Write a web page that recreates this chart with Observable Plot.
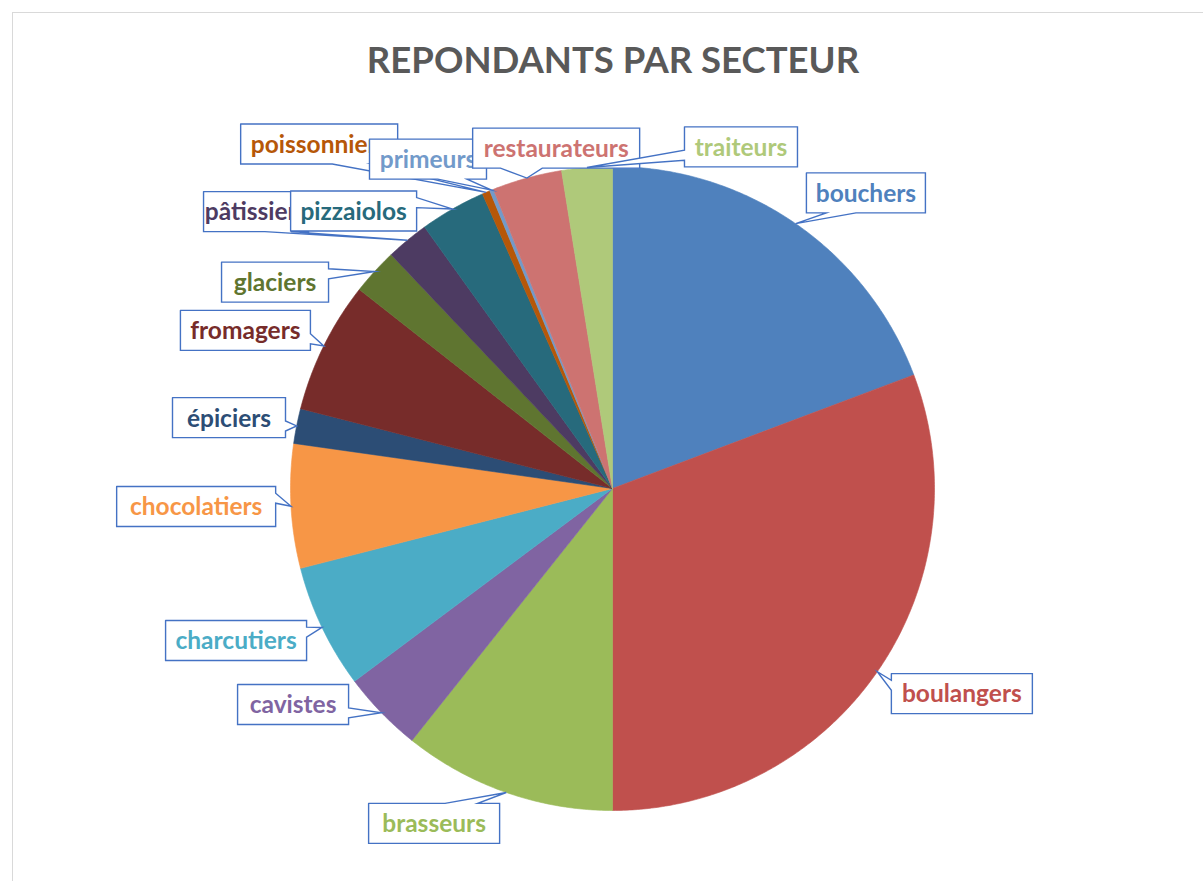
<!DOCTYPE html>
<html>
<head>
<meta charset="utf-8">
<script src="https://cdn.jsdelivr.net/npm/d3@7"></script>
<script src="https://cdn.jsdelivr.net/npm/@observablehq/plot@0.6"></script>
<style>
  html, body { margin: 0; padding: 0; background: #fff; overflow: hidden; width: 1203px; height: 881px; }
  #frame { position: absolute; left: 12px; top: 12px; width: 1400px; height: 1100px; border: 1px solid #D9D9D9; box-sizing: border-box; }
  #title { position: absolute; left: 0; top: 41px; width: 1226px; text-align: center; font-family: Lato, "Open Sans", sans-serif; font-weight: 700; font-size: 36.5px; line-height: 1; color: #595959; letter-spacing: 0px; }
  #chart { position: absolute; left: 0; top: 100px; }
</style>
</head>
<body>
<div id="frame"></div>
<div id="title">REPONDANTS PAR SECTEUR</div>
<div id="chart"></div>
<script>
// ---- data ----
const sectors = ["bouchers", "boulangers", "brasseurs", "cavistes", "charcutiers", "chocolatiers", "épiciers", "fromagers", "glaciers", "pâtissiers", "pizzaiolos", "poissonniers", "primeurs", "restaurateurs", "traiteurs"];
const counts  = [99, 158, 55, 21, 32, 32, 9, 34, 12, 11, 17, 2, 1, 18, 13];
const colors  = ["#4F81BD", "#C0504D", "#9BBB59", "#8064A2", "#4BACC6", "#F79646", "#2C4D75", "#772C2A", "#5F7530", "#4D3B62", "#276A7C", "#B65708", "#729ACA", "#CD7371", "#AFC97A"];

// ---- label layout (box centre in pie radii, box width in px, optional wedge side) ----
const labelX = [0.787, 1.085, -0.554, -0.992, -1.169, -1.293, -1.191, -1.140, -1.048, -1.107, -0.804, -0.911, -0.573, -0.175, 0.399];
const labelY = [0.918, -0.637, -1.040, -0.671, -0.472, -0.056, 0.220, 0.491, 0.641, 0.860, 0.862, 1.070, 1.023, 1.057, 1.061];
const labelW = [119, 141, 131, 111, 141, 159, 113, 130, 107, 105, 126, 157, 117, 167, 113];
const labelSide = {"pâtissiers": "bottom"};
const BOX_H = 40;

const W = 1203, H = 781, R = 322, CX = 612, CY = 388;

const rows = sectors.map((s, i) => ({sector: s, count: counts[i], color: colors[i]}));
const arcs = d3.pie().sort(null).value(d => d.count)(rows);

function arcPoints(a0, a1) {
  const n = Math.max(2, Math.ceil((a1 - a0) / (Math.PI / 360)));
  const pts = [];
  for (let k = 0; k <= n; k++) {
    const t = a0 + (a1 - a0) * k / n;
    pts.push({x: Math.sin(t), y: Math.cos(t)});
  }
  return pts;
}

const sliceMarks = arcs.map(a => Plot.line(
  [{x: 0, y: 0}, ...arcPoints(a.startAngle, a.endAngle), {x: 0, y: 0}],
  {x: "x", y: "y", fill: a.data.color, stroke: a.data.color, strokeWidth: 0.6, curve: "linear"}
));

const shadowMark = Plot.line(arcPoints(0, 2 * Math.PI),
  {x: "x", y: "y", fill: "#000", fillOpacity: 0.45, stroke: "none", curve: "linear", ariaLabel: "pie-shadow"});

// callout outlines
function callout(a, i) {
  const mid = (a.startAngle + a.endAngle) / 2;
  const tx = R * Math.sin(mid), ty = -R * Math.cos(mid);
  const cx = labelX[i] * R, cy = -labelY[i] * R, w = labelW[i], h = BOX_H;
  const L = cx - w / 2, Rr = cx + w / 2, T = cy - h / 2, B = cy + h / 2;
  let side = labelSide[a.data.sector];
  if (!side) {
    const dxn = (tx - cx) / w, dyn = (ty - cy) / h;
    side = Math.abs(dxn) > Math.abs(dyn) ? (dxn > 0 ? "right" : "left") : (dyn > 0 ? "bottom" : "top");
  }
  const hx = tx > cx ? [L + w * 7 / 12, L + w * 10 / 12] : [L + w * 2 / 12, L + w * 5 / 12];
  const vy = ty > cy ? [T + h * 7 / 12, T + h * 10 / 12] : [T + h * 2 / 12, T + h * 5 / 12];
  const p = [[L, T]];
  if (side === "top") p.push([hx[0], T], [tx, ty], [hx[1], T]);
  p.push([Rr, T]);
  if (side === "right") p.push([Rr, vy[0]], [tx, ty], [Rr, vy[1]]);
  p.push([Rr, B]);
  if (side === "bottom") p.push([hx[1], B], [tx, ty], [hx[0], B]);
  p.push([L, B]);
  if (side === "left") p.push([L, vy[1]], [tx, ty], [L, vy[0]]);
  p.push([L, T]);
  return p.map(([sx, sy]) => ({x: sx / R, y: -sy / R}));
}

const labelMarks = arcs.flatMap((a, i) => [
  Plot.line(callout(a, i), {x: "x", y: "y", fill: "white", stroke: "#4472C4", strokeWidth: 1.4, strokeLinejoin: "miter", strokeMiterlimit: 10, curve: "linear"}),
  Plot.text([{x: labelX[i], y: labelY[i], t: a.data.sector}], {x: "x", y: "y", text: "t", fill: a.data.color, fontSize: 24.5, fontWeight: "bold", fontFamily: "Lato", textAnchor: "middle", lineAnchor: "middle", dy: 1})
]);

const svg = Plot.plot({
  width: W, height: H, margin: 0,
  style: {background: "transparent", overflow: "visible", fontFamily: "Lato"},
  x: {domain: [-CX / R, (W - CX) / R], axis: null},
  y: {domain: [-(H - CY) / R, CY / R], axis: null},
  marks: [
    shadowMark,
    ...sliceMarks,
    ...labelMarks
  ]
});

// soft blur for the shadow disc
const s = d3.select(svg);
const f = s.insert("defs", ":first-child").append("filter").attr("id", "pieBlur")
  .attr("x", "-10%").attr("y", "-10%").attr("width", "120%").attr("height", "120%");
f.append("feGaussianBlur").attr("stdDeviation", 5);
s.select('g[aria-label="pie-shadow"]').attr("filter", "url(#pieBlur)").attr("transform", "translate(1,2)");

document.getElementById("chart").appendChild(svg);
</script>
</body>
</html>
